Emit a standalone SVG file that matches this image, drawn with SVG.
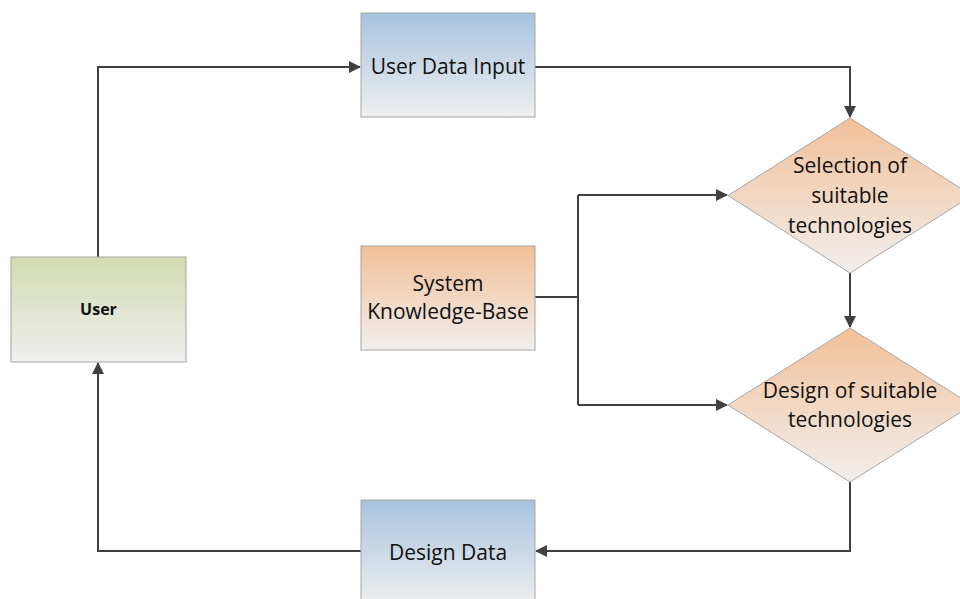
<svg xmlns="http://www.w3.org/2000/svg" width="960" height="599" viewBox="0 0 960 599">
<defs>
<linearGradient id="gBlue" x1="0" y1="0" x2="0" y2="1"><stop offset="0" stop-color="#a8c3de"/><stop offset="1" stop-color="#efefef"/></linearGradient>
<linearGradient id="gGreen" x1="0" y1="0" x2="0" y2="1"><stop offset="0" stop-color="#d2dbb2"/><stop offset="1" stop-color="#efefef"/></linearGradient>
<linearGradient id="gOrange" x1="0" y1="0" x2="0" y2="1"><stop offset="0" stop-color="#f2c098"/><stop offset="1" stop-color="#f1efee"/></linearGradient>
<marker id="arr" markerWidth="12" markerHeight="12" refX="11" refY="6" orient="auto" markerUnits="userSpaceOnUse" viewBox="0 0 12 12"><path d="M0,0 L12,6 L0,12 z" fill="#404040"/></marker>
<style>
.box{stroke:#a6a6a6;stroke-width:1}
.t{font-family:"Open Sans","Noto Sans","Liberation Sans",sans-serif;font-size:21px;fill:#111;text-anchor:middle;dominant-baseline:central}
.c{fill:none;stroke:#404040;stroke-width:2}
</style>
</defs>
<g id="connectors">
<path class="c" d="M98,257 V67 H360" marker-end="url(#arr)"/>
<path class="c" d="M535,67 H850 V117" marker-end="url(#arr)"/>
<path class="c" d="M850,273 V327" marker-end="url(#arr)"/>
<path class="c" d="M850,482 V551 H536" marker-end="url(#arr)"/>
<path class="c" d="M361,551 H98 V363" marker-end="url(#arr)"/>
<path class="c" d="M535,297 H578"/>
<path class="c" d="M578,195 V405"/>
<path class="c" d="M578,195 H727" marker-end="url(#arr)"/>
<path class="c" d="M578,405 H727" marker-end="url(#arr)"/>
</g>
<g id="user"><rect class="box" x="11" y="257" width="175" height="105" fill="url(#gGreen)"/><text class="t" x="98.5" y="309" style="font-size:16px;font-weight:bold">User</text></g>
<g id="userDataInput"><rect class="box" x="361" y="13" width="174" height="104" fill="url(#gBlue)"/><text class="t" x="448" y="66">User Data Input</text></g>
<g id="knowledgeBase"><rect class="box" x="361" y="246" width="174" height="104" fill="url(#gOrange)"/><text class="t" x="448" y="283">System</text><text class="t" x="448" y="311">Knowledge-Base</text></g>
<g id="designData"><rect class="box" x="361" y="500" width="174" height="104" fill="url(#gBlue)"/><text class="t" x="448" y="552">Design Data</text></g>
<g id="selection"><polygon class="box" points="850,118 972,195.5 850,273 728,195.5" fill="url(#gOrange)"/><text class="t" x="850" y="165">Selection of</text><text class="t" x="850" y="195">suitable</text><text class="t" x="850" y="225">technologies</text></g>
<g id="design"><polygon class="box" points="850,328 972,405 850,482 728,405" fill="url(#gOrange)"/><text class="t" x="850" y="390">Design of suitable</text><text class="t" x="850" y="419">technologies</text></g>
</svg>
